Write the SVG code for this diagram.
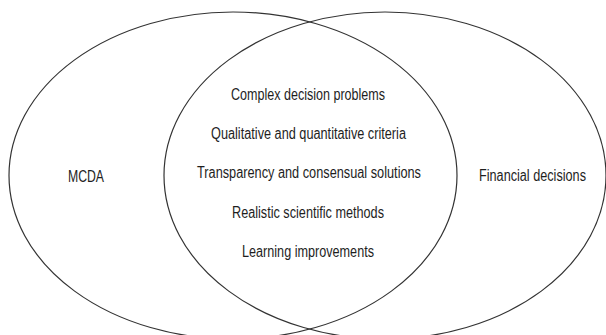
<svg xmlns="http://www.w3.org/2000/svg" width="606" height="335" viewBox="0 0 606 335">
<style>
.set{fill:none;stroke:#333333;stroke-width:1.2}
text{font-family:"Liberation Sans",Arial,sans-serif;font-size:16px;fill:#1e1e1e;text-anchor:middle}
</style>
<rect width="606" height="335" fill="#ffffff"/>
<g id="mcda">
<ellipse class="set" cx="233" cy="175.5" rx="224" ry="163.5"/>
<text x="86" y="182" textLength="36" lengthAdjust="spacingAndGlyphs">MCDA</text>
</g>
<g id="financial">
<ellipse class="set" cx="385" cy="175.5" rx="221" ry="163.5"/>
<text x="532.5" y="181" textLength="107" lengthAdjust="spacingAndGlyphs">Financial decisions</text>
</g>
<g id="overlap">
<text x="308" y="100" textLength="154" lengthAdjust="spacingAndGlyphs">Complex decision problems</text>
<text x="308.5" y="139" textLength="195" lengthAdjust="spacingAndGlyphs">Qualitative and quantitative criteria</text>
<text x="309" y="178" textLength="224" lengthAdjust="spacingAndGlyphs">Transparency and consensual solutions</text>
<text x="308" y="218" textLength="152" lengthAdjust="spacingAndGlyphs">Realistic scientific methods</text>
<text x="308" y="257" textLength="132" lengthAdjust="spacingAndGlyphs">Learning improvements</text>
</g>
<g id="connectors"/>
</svg>
